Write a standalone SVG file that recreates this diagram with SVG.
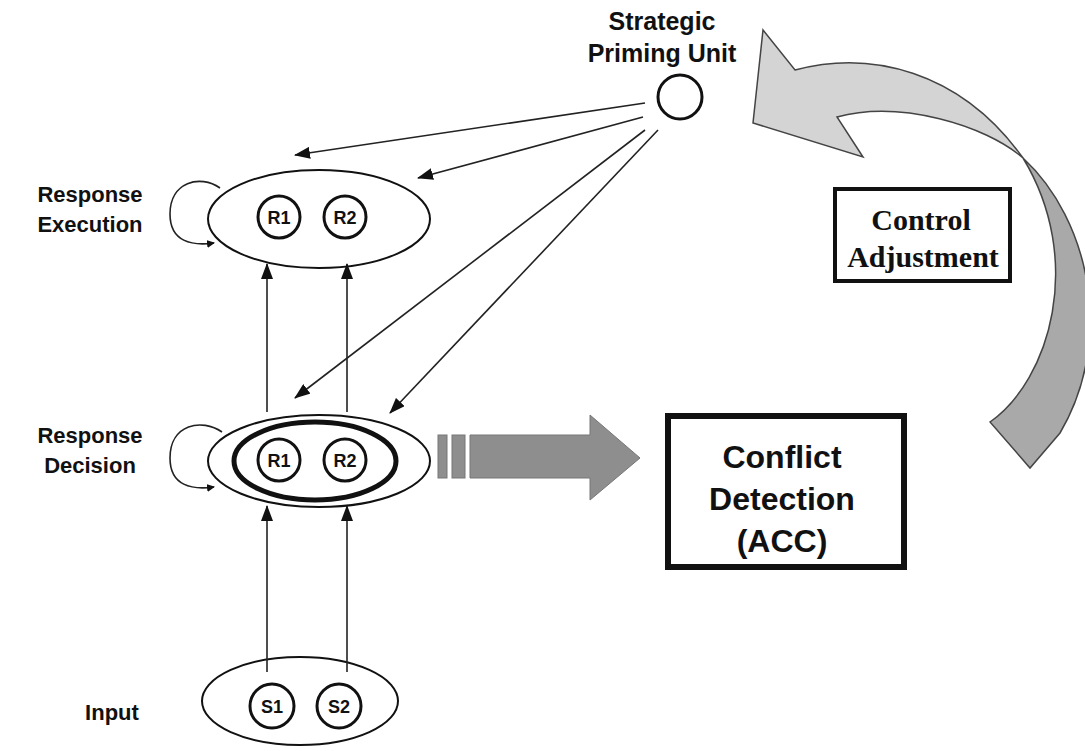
<svg xmlns="http://www.w3.org/2000/svg" width="1085" height="751" viewBox="0 0 1085 751">
<style>
.lbl{font-family:"Liberation Sans",Arial,sans-serif;font-weight:bold;fill:#111;text-anchor:middle}
.side{font-size:22px}
.unit{font-size:18px}
.serif{font-family:"Liberation Serif","Times New Roman",serif;font-weight:bold;fill:#111;text-anchor:middle;font-size:30px}
.ell{fill:none;stroke:#111;stroke-width:2}
.unitc{fill:#fff;stroke:#111;stroke-width:3}
.conn{fill:none;stroke:#222;stroke-width:1.6}
</style>
<defs>
<marker id="ah" markerUnits="userSpaceOnUse" markerWidth="16" markerHeight="12" refX="15" refY="6" orient="auto">
<path d="M0,0 L16,6 L0,12 Z" fill="#111"/>
</marker>
<marker id="ahs" markerUnits="userSpaceOnUse" markerWidth="8" markerHeight="8" refX="7" refY="4" orient="auto">
<path d="M0,0 L8,4 L0,8 Z" fill="#111"/>
</marker>
</defs>
<rect width="1085" height="751" fill="#fff"/>

<g id="labels">
<text class="lbl side" x="90" y="202">Response</text>
<text class="lbl side" x="90" y="232">Execution</text>
<text class="lbl side" x="90" y="443">Response</text>
<text class="lbl side" x="90" y="473">Decision</text>
<text class="lbl side" x="112" y="720">Input</text>
</g>

<g id="priming">
<text class="lbl" style="font-size:25px" x="662" y="30">Strategic</text>
<text class="lbl" style="font-size:25px" x="662" y="62">Priming Unit</text>
<circle cx="680" cy="97" r="22" fill="#fff" stroke="#111" stroke-width="3"/>
</g>

<g id="execution">
<ellipse class="ell" cx="319" cy="219" rx="111" ry="49"/>
<circle class="unitc" cx="279" cy="217" r="21"/>
<text class="lbl unit" x="279" y="224">R1</text>
<circle class="unitc" cx="345" cy="217" r="21"/>
<text class="lbl unit" x="345" y="224">R2</text>
</g>

<g id="decision">
<ellipse class="ell" cx="319" cy="461" rx="111" ry="46"/>
<ellipse cx="315" cy="461" rx="81" ry="39" fill="none" stroke="#111" stroke-width="5"/>
<circle class="unitc" cx="279" cy="460" r="21"/>
<text class="lbl unit" x="279" y="467">R1</text>
<circle class="unitc" cx="345" cy="460" r="21"/>
<text class="lbl unit" x="345" y="467">R2</text>
</g>

<g id="input">
<ellipse class="ell" cx="300" cy="701" rx="98" ry="44"/>
<circle class="unitc" cx="272" cy="706" r="22"/>
<text class="lbl unit" x="272" y="713">S1</text>
<circle class="unitc" cx="339" cy="706" r="22"/>
<text class="lbl unit" x="339" y="713">S2</text>
</g>

<g id="conflict">
<rect x="668" y="416" width="236" height="151" fill="#fff" stroke="#111" stroke-width="6"/>
<text class="lbl" style="font-size:32px" x="782" y="468">Conflict</text>
<text class="lbl" style="font-size:32px" x="782" y="510">Detection</text>
<text class="lbl" style="font-size:32px" x="782" y="552">(ACC)</text>
</g>

<g id="control">
<rect x="835" y="189" width="175" height="92" fill="#fff" stroke="#111" stroke-width="4"/>
<text class="serif" x="921" y="230">Control</text>
<text class="serif" x="923" y="267">Adjustment</text>
</g>

<g id="signal-arrow">
<rect x="438" y="435" width="9" height="43" fill="#8e8e8e" stroke="#777" stroke-width="1"/>
<rect x="452" y="435" width="13" height="43" fill="#8e8e8e" stroke="#777" stroke-width="1"/>
<path d="M470,435 L590,435 L590,415 L640,458 L590,500 L590,478 L470,478 Z" fill="#8e8e8e" stroke="#777" stroke-width="1"/>
</g>

<g id="adjust-arrow">
<path d="M1023,158 C1090,220 1115,340 1060,433 L1030,468 L990,422 C1050,380 1085,260 1023,158 Z" fill="#a9a9a9" stroke="#444" stroke-width="1.5"/>
<path d="M763,30 L795,70 C870,50 960,70 1023,158 C985,125 900,100 837,117 L863,157 L753,123 Z" fill="#d4d4d4" stroke="#444" stroke-width="1.5"/>
</g>

<g id="connectors">
<line class="conn" x1="645" y1="103" x2="295" y2="155" marker-end="url(#ah)"/>
<line class="conn" x1="643" y1="117" x2="418" y2="178" marker-end="url(#ah)"/>
<line class="conn" x1="645" y1="130" x2="295" y2="398" marker-end="url(#ah)"/>
<line class="conn" x1="658" y1="130" x2="390" y2="413" marker-end="url(#ah)"/>
<line class="conn" x1="267" y1="412" x2="267" y2="264" marker-end="url(#ah)"/>
<line class="conn" x1="347" y1="412" x2="347" y2="264" marker-end="url(#ah)"/>
<line class="conn" x1="267" y1="672" x2="267" y2="506" marker-end="url(#ah)"/>
<line class="conn" x1="347" y1="672" x2="347" y2="506" marker-end="url(#ah)"/>
<path class="conn" d="M220,188 C200,174 170,182 170,214 C170,242 192,246 214,243" marker-end="url(#ahs)"/>
<path class="conn" d="M222,432 C202,418 170,424 170,458 C170,486 192,490 214,487" marker-end="url(#ahs)"/>
</g>
</svg>
